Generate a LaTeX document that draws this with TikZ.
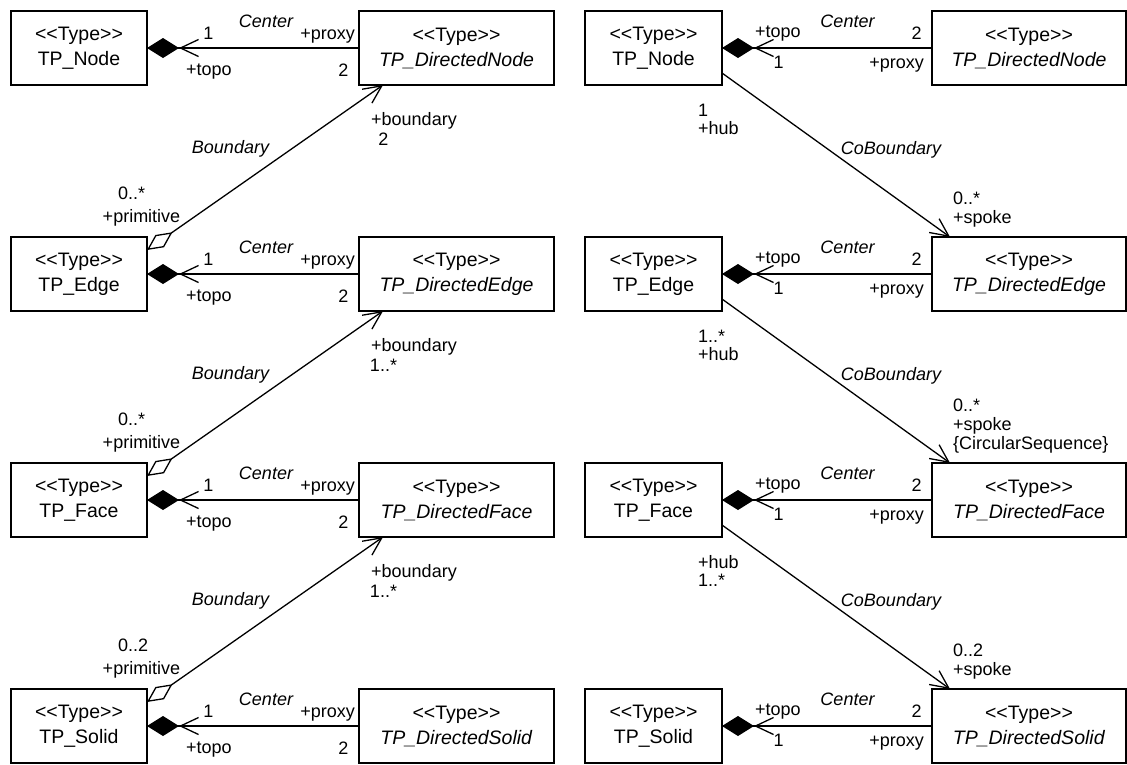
\documentclass[tikz,border=0pt]{standalone}
\usepackage{fontspec}
\setmainfont{Liberation Sans}[Ligatures=TeXOff]
\usetikzlibrary{arrows.meta,calc}
\begin{document}
\begin{tikzpicture}[x=1pt,y=-1pt,
  box/.style={draw,line width=1.5pt,minimum width=#1,minimum height=74pt,inner sep=0pt,outer sep=0pt,align=center,anchor=north west,font=\fontsize{19.5}{25}\selectfont},
  lab/.style={inner sep=0pt,font=\fontsize{18}{19}\selectfont},
  conn/.style={line width=1.3pt},
  filleddia/.style={-{Diamond[length=32pt,width=20pt]}},
  barbend/.style={-{Straight Barb[length=18pt,width=17pt]}},
  aggr/.style={{Diamond[open,length=31pt,width=15pt]}-{Straight Barb[length=18pt,width=17pt]}}
]
\useasboundingbox (0,0) rectangle (1127,764);
\foreach \k/\nm in {0/Node,1/Edge,2/Face,3/Solid}{
  \node[box=136pt] (L\k) at (11,11+226*\k) {<<Type>>\\TP\_\nm};
  \node[box=195pt] (LD\k) at (359,11+226*\k) {<<Type>>\\\textit{TP\_Directed\nm}};
  \node[box=137pt] (R\k) at (585,11+226*\k) {<<Type>>\\TP\_\nm};
  \node[box=194pt] (RD\k) at (932,11+226*\k) {<<Type>>\\\textit{TP\_Directed\nm}};
  % Center associations
  \draw[conn,filleddia] (LD\k.west) -- (L\k.east);
  \draw[conn,barbend] (LD\k.west) -- ($(L\k.east)+(32,0)$);
  \draw[conn,filleddia] (RD\k.west) -- (R\k.east);
  \draw[conn,barbend] (RD\k.west) -- ($(R\k.east)+(32,0)$);
  % left labels
  \node[lab,anchor=base] (cL\k) at (266,27+226*\k) {\itshape Center};
  \node[lab,anchor=base] (oL\k) at (208.5,39+226*\k) {1};
  \node[lab,anchor=base east] (pL\k) at (355,39+226*\k) {+proxy};
  \node[lab,anchor=base west] (tL\k) at (186,75+226*\k) {+topo};
  \node[lab,anchor=base] (wL\k) at (343.5,76+226*\k) {2};
  % right labels
  \node[lab,anchor=base west] (tR\k) at (755,37+226*\k) {+topo};
  \node[lab,anchor=base] (cR\k) at (847.5,27+226*\k) {\itshape Center};
  \node[lab,anchor=base] (wR\k) at (916.5,39+226*\k) {2};
  \node[lab,anchor=base] (oR\k) at (778.5,68+226*\k) {1};
  \node[lab,anchor=base east] (pR\k) at (924,68+226*\k) {+proxy};
}
\foreach \k/\j in {0/1,1/2,2/3}{
  \draw[conn,aggr] ($(L\j.north east)+(0,13)$) -- ($(LD\k.south west)+(24,0)$);
  \draw[conn,barbend] ($(R\k.north east)+(0,62)$) -- ($(RD\j.north west)+(18,0)$);
  \node[lab,anchor=base west] (bL\k) at (371,125+226*\k) {+boundary};
  \node[lab,anchor=base] (BL\k) at (230.5,153+226*\k) {\itshape Boundary};
  \node[lab,anchor=base] (rL\k) at (141.5,222+226*\k) {+primitive};
  \node[lab,anchor=base] (CB\k) at (891,154+226*\k) {\itshape CoBoundary};
}
% multiplicities at DirectedX (boundary)
\node[lab,anchor=base] (m0) at (383.5,145) {2};
\node[lab,anchor=base] (m1) at (383.5,371) {1..*};
\node[lab,anchor=base] (m2) at (383.5,597) {1..*};
% multiplicities at primitive end
\node[lab,anchor=base west] (q0) at (118,199) {0..*};
\node[lab,anchor=base west] (q1) at (118,425) {0..*};
\node[lab,anchor=base west] (q2) at (118,651) {0..2};
% hub labels
\node[lab,anchor=base west] (h0a) at (698,116) {1};
\node[lab,anchor=base west] (h0b) at (698,134) {+hub};
\node[lab,anchor=base west] (h1a) at (698,342) {1..*};
\node[lab,anchor=base west] (h1b) at (698,360) {+hub};
\node[lab,anchor=base west] (h2a) at (698,568) {+hub};
\node[lab,anchor=base west] (h2b) at (698,586) {1..*};
% spoke labels
\node[lab,anchor=base west] (s0a) at (953,204) {0..*};
\node[lab,anchor=base west] (s0b) at (953,223) {+spoke};
\node[lab,anchor=base west] (s1a) at (953,411) {0..*};
\node[lab,anchor=base west] (s1b) at (953,430) {+spoke};
\node[lab,anchor=base west] (s1c) at (953,449) {\{CircularSequence\}};
\node[lab,anchor=base west] (s2a) at (953,656) {0..2};
\node[lab,anchor=base west] (s2b) at (953,675) {+spoke};
\end{tikzpicture}
\end{document}
